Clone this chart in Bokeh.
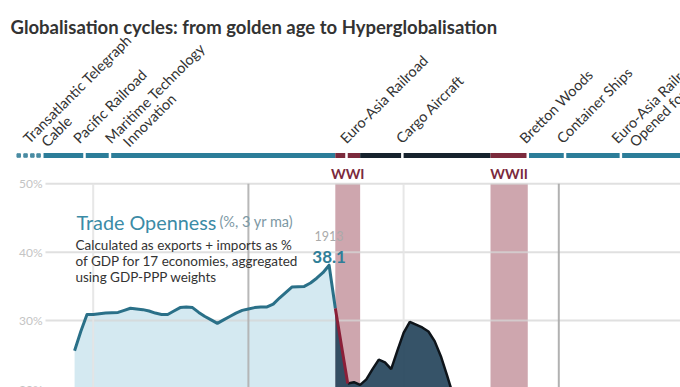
import numpy as np
from bokeh.plotting import figure
from bokeh.models import Range1d, Label
from bokeh.embed import file_html
from bokeh.resources import INLINE
from bokeh.core.properties import value

# ---------------- data ----------------
open_years = list(range(1872, 1915))
open_values = [25.6, 28.4, 30.9, 30.9, 31.0, 31.1, 31.15, 31.2, 31.5, 31.8,
               31.7, 31.6, 31.4, 31.1, 30.9, 30.9, 31.4, 31.9, 32.0, 31.9,
               31.2, 30.6, 30.1, 29.6, 30.1, 30.6, 31.1, 31.5, 31.7, 31.9,
               32.0, 32.0, 32.4, 33.3, 34.1, 34.9, 34.95, 35.0, 35.5, 36.2,
               37.0, 38.1, 31.8]

interwar_years = list(range(1914, 1934))
interwar_values = [31.8, 26.3, 20.8, 21.0, 20.6, 21.4, 22.9, 24.3, 23.9, 22.9,
                   25.6, 28.2, 29.8, 29.4, 29.0, 28.4, 27.0, 24.8, 22.0, 19.0]

peak_year = 1913
peak_value = 38.1

wars = ["WWI", "WWII"]
war_start = [1914, 1939]
war_end = [1918, 1945]

events = ["Transatlantic Telegraph", "Pacific Railroad", "Maritime Technology",
          "Euro-Asia Railroad", "Cargo Aircraft", "Bretton Woods",
          "Container Ships", "Euro-Asia Railroad"]
events_line2 = ["Cable", "", "Innovation", "", "", "", "", "Opened for Freight"]
event_years = [1867.0, 1873.6, 1877.7, 1915.8, 1924.8, 1945.0, 1951.0, 1960.0]

period_start = [1867, 1914, 1918, 1939, 1945]
period_end = [1914, 1918, 1939, 1945, 1975]
period_kind = ["open", "war", "interwar", "war", "open"]
lead_dots = [1863.0, 1864.1, 1865.2, 1866.2]

y_ticks = [20, 30, 40, 50]
y_tick_labels = ["20%", "30%", "40%", "50%"]
grid_years = [1875, 1900, 1925, 1950]

# ---------------- layout helpers (pixel -> data) ----------------
PX_PER_YEAR = 6.208
PX_PER_PCT = 6.84
def yr(X):   # reference pixel x -> year
    return 1875 + (X - 92.7) / PX_PER_YEAR
def pc(Y):   # reference pixel y -> percent
    return 50 - (Y - 183.3) / PX_PER_PCT

W, H = 680, 387
x0, x1 = yr(0), yr(W)
y0, y1 = pc(H), pc(0)

TEAL = "#2c7d99"
WARRED = "#7b2a3c"
DARK = "#16222d"
FONT = value("Lato")

p = figure(width=W, height=H, output_backend="svg", toolbar_location=None,
           x_axis_type=None, y_axis_type=None,
           x_range=Range1d(x0, x1), y_range=Range1d(y0, y1),
           min_border=0, min_border_left=0, min_border_right=0,
           min_border_top=0, min_border_bottom=0)
p.outline_line_color = None
p.grid.visible = False
p.background_fill_color = "white"
p.border_fill_color = "white"

# war bands
p.quad(left=war_start, right=war_end, bottom=y0 - 5, top=max(y_ticks),
       fill_color="#cea6ae", line_color=None)

# light fill of trade openness
p.varea(x=open_years, y1=0, y2=open_values, fill_color="#d4e9f1")

# horizontal grid
p.segment(x0=yr(45), x1=x1 + 5, y0=y_ticks, y1=y_ticks,
          line_color="#d6d6d6", line_width=2, line_alpha=0.75)
# vertical grid
vcol = ["#e4e4e4", "#b0b0b0", "#e4e4e4", "#a8a8a8"]
p.segment(x0=grid_years, x1=grid_years, y0=y0 - 5, y1=max(y_ticks),
          line_color=vcol, line_width=2, line_alpha=0.9)

# interwar dark area
p.varea(x=interwar_years, y1=0, y2=interwar_values, fill_color="#27465d", fill_alpha=0.93)
p.line(interwar_years[2:], interwar_values[2:], line_color="#0e141a", line_width=2.5)
p.line(interwar_years[:3], interwar_values[:3], line_color="#8a1f38", line_width=3)

# trade openness line
p.line(open_years, open_values, line_color="#2a7088", line_width=3, line_join="round")

# timeline
kcol = {"open": TEAL, "war": WARRED, "interwar": DARK}
p.segment(x0=period_start, x1=period_end, y0=pc(155), y1=pc(155),
          line_color=[kcol[k] for k in period_kind], line_width=5, line_cap="butt")
p.segment(x0=event_years[1:], x1=event_years[1:], y0=pc(158), y1=pc(152),
          line_color="white", line_width=2.5)
p.scatter(x=lead_dots, y=[pc(155)] * len(lead_dots), marker="square", size=3.5,
          color="#4a8ca3")

# event labels (rotated 45 degrees)
off1 = [-18, -9, -2.5, -4, -4, -6, -6, -7]
p.text(x=event_years, y=[pc(140)] * len(events), text=events, angle=np.pi / 4,
       x_offset=off1, text_font=FONT, text_font_size="14.5px", text_color="#333333",
       text_align="left", text_baseline="alphabetic")
l2 = [i for i, t in enumerate(events_line2) if t]
p.text(x=[event_years[i] for i in l2], y=[pc(143.5)] * len(l2),
       text=[events_line2[i] for i in l2], angle=np.pi / 4,
       x_offset=[off1[i] + 18 for i in l2], text_font=FONT, text_font_size="14.5px",
       text_color="#333333", text_align="left", text_baseline="alphabetic")

# war labels
p.text(x=[(a + b) / 2 for a, b in zip(war_start, war_end)], y=[pc(173)] * 2, text=wars,
       text_font=FONT, text_font_style="bold", text_font_size="14px",
       text_color=WARRED, text_align="center", text_baseline="alphabetic")

# y tick labels
p.text(x=[yr(42)] * len(y_ticks), y=y_ticks, text=y_tick_labels, text_font=FONT,
       text_font_size="12px", text_color="#c4c4c4", text_align="right",
       text_baseline="middle")

# peak annotation
p.text(x=[peak_year], y=[peak_value + 8.5 / PX_PER_PCT], text=[f"{peak_value}"],
       text_font=FONT, text_font_style="bold", text_font_size="17px",
       text_color="#2f7e98", text_align="center", text_baseline="alphabetic")
p.text(x=[peak_year], y=[peak_value + 29 / PX_PER_PCT], text=[str(peak_year)],
       text_font=FONT, text_font_size="12.5px", text_color="#aaaaaa",
       text_align="center", text_baseline="alphabetic")

# title and legend text (screen units)
def lab(text, X, Y, size, color, style="normal"):
    p.add_layout(Label(x=X, y=H - Y, x_units="screen", y_units="screen",
                       text=text, text_font="Lato", text_font_size=size,
                       text_color=color, text_font_style=style,
                       text_baseline="alphabetic"))

lab("Globalisation cycles: from golden age to Hyperglobalisation", 10, 26.5, "18.5px", "#333333", "bold")
lab("Trade Openness", 76, 221, "19.8px", "#3b8ba6")
lab("(%, 3 yr ma)", 219, 221, "14.5px", "#7d98a4")
lab("Calculated as exports + imports as %", 75, 244, "13.5px", "#333333")
lab("of GDP for 17 economies, aggregated", 75, 260, "13.5px", "#333333")
lab("using GDP-PPP weights", 75, 276, "13.5px", "#333333")

open("out.html", "w").write(file_html(p, INLINE))
